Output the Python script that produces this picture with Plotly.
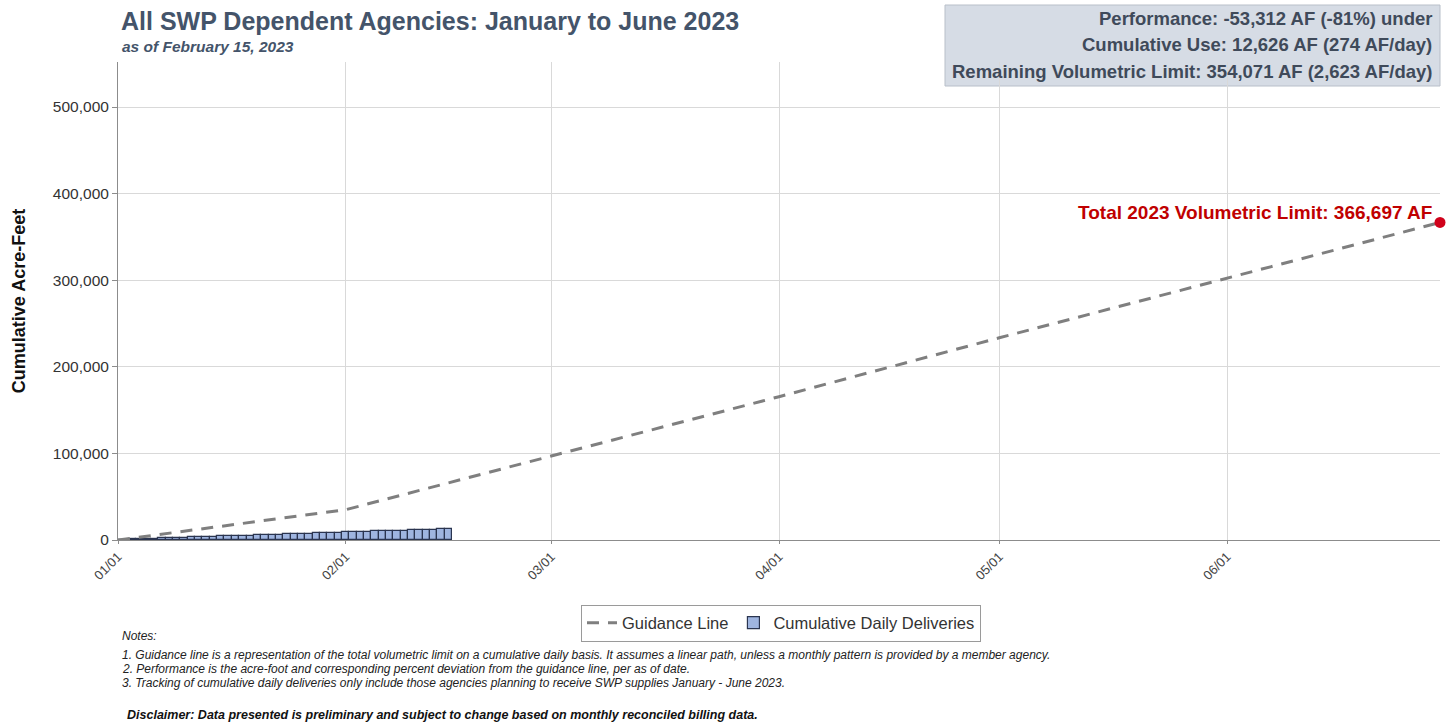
import plotly.graph_objects as go
import pandas as pd

# ---------------- data ----------------
guide_dates = ["2023-01-01", "2023-02-01", "2023-03-01", "2023-04-01", "2023-05-01", "2023-06-01", "2023-06-30"]
guide_values = [0, 35000, 97000, 165500, 233500, 302000, 366697]

delivery_dates = pd.date_range("2023-01-01", "2023-02-15", freq="D").strftime("%Y-%m-%d").tolist()
delivery_values = [
    240, 500, 770, 1050, 1320, 1600, 1880, 2150, 2420, 2700,
    2970, 3240, 3520, 3790, 4070, 4340, 4610, 4890, 5160, 5440,
    5710, 5990, 6260, 6540, 6810, 7090, 7360, 7640, 7910, 8190,
    8460, 8740, 9020, 9300, 9580, 9860, 10140, 10420, 10690, 10970,
    11250, 11520, 11800, 12070, 12350, 12626,
]

limit_date = "2023-06-30"
limit_value = 366697

y_ticks = [0, 100000, 200000, 300000, 400000, 500000]
y_tick_labels = ["0", "100,000", "200,000", "300,000", "400,000", "500,000"]
x_ticks = ["2023-01-01", "2023-02-01", "2023-03-01", "2023-04-01", "2023-05-01", "2023-06-01"]
x_tick_labels = ["01/01", "02/01", "03/01", "04/01", "05/01", "06/01"]

title_text = "All SWP Dependent Agencies: January to June 2023"
subtitle_text = "as of February 15, 2023"
box_lines = [
    "Performance: -53,312 AF (-81%) under",
    "Cumulative Use: 12,626 AF (274 AF/day)",
    "Remaining Volumetric Limit: 354,071 AF (2,623 AF/day)",
]
limit_label = "Total 2023 Volumetric Limit: 366,697 AF"
notes = [
    "Notes:",
    "1. Guidance line is a representation of the total volumetric limit on a cumulative daily basis. It assumes a linear path, unless a monthly pattern is provided by a member agency.",
    "2. Performance is the acre-foot and corresponding percent deviation from the guidance line, per as of date.",
    "3. Tracking of cumulative daily deliveries only include those agencies planning to receive SWP supplies January - June 2023.",
]
disclaimer = "Disclaimer: Data presented is preliminary and subject to change based on monthly reconciled billing data."

FONT = "Arial, 'Liberation Sans', sans-serif"

fig = go.Figure()

fig.add_trace(go.Scatter(
    x=guide_dates, y=guide_values, mode="lines", name="Guidance Line",
    line=dict(color="#7f7f7f", width=3, dash="12px,9px"),
))
fig.add_trace(go.Bar(
    x=delivery_dates, y=delivery_values, name="Cumulative Daily Deliveries",
    marker=dict(color="#9fb5e0", line=dict(color="#2b3550", width=1.2)),
))
fig.add_trace(go.Scatter(
    x=[limit_date], y=[limit_value], mode="markers", showlegend=False,
    marker=dict(color="#d0021b", size=11), cliponaxis=False,
))

# plot area: x 118..1440, y 62..540
L, R, T, B = 118, 1440, 62, 540
W, H = R - L, B - T

def py(px):
    return (B - px) / H

def pxx(px):
    return (px - L) / W

ann = []
ann.append(dict(text="<b>" + title_text + "</b>", x=pxx(119), y=py(21), xref="paper", yref="paper",
                xanchor="left", yanchor="middle", showarrow=False,
                font=dict(size=25, color="#44546a", family=FONT)))
ann.append(dict(text="<b><i>" + subtitle_text + "</i></b>", x=pxx(120), y=py(47), xref="paper", yref="paper",
                xanchor="left", yanchor="middle", showarrow=False,
                font=dict(size=15.5, color="#44546a", family=FONT)))
for i, (t, yy) in enumerate(zip(box_lines, [18, 45, 71])):
    ann.append(dict(text="<b>" + t + "</b>", x=pxx(1434), y=py(yy), xref="paper", yref="paper",
                    xanchor="right", yanchor="middle", showarrow=False,
                    font=dict(size=18.5, color="#3f4a5a", family=FONT)))
ann.append(dict(text="<b>" + limit_label + "</b>", x=pxx(1434), y=py(213), xref="paper", yref="paper",
                xanchor="right", yanchor="middle", showarrow=False,
                font=dict(size=19, color="#c00000", family=FONT)))
for t, yy in zip(notes, [636, 655, 669, 683]):
    ann.append(dict(text="<i>" + t + "</i>", x=pxx(120), y=py(yy), xref="paper", yref="paper",
                    xanchor="left", yanchor="middle", showarrow=False,
                    font=dict(size=12, color="#222222", family=FONT)))
ann.append(dict(text="<b><i>" + disclaimer + "</i></b>", x=pxx(125), y=py(715), xref="paper", yref="paper",
                xanchor="left", yanchor="middle", showarrow=False,
                font=dict(size=12.5, color="#111111", family=FONT)))

fig.update_layout(
    width=1456, height=723,
    margin=dict(l=L, r=1456 - R, t=T, b=723 - B),
    paper_bgcolor="white", plot_bgcolor="white",
    font=dict(family=FONT, color="#333333"),
    bargap=0,
    annotations=ann,
    shapes=[dict(type="rect", xref="paper", yref="paper",
                 x0=pxx(945), x1=pxx(1440), y0=py(86), y1=py(5),
                 fillcolor="#d6dce5", line=dict(color="#b8bfc9", width=1), layer="below")],
    legend=dict(orientation="h", x=pxx(781), y=py(623), xanchor="center", yanchor="middle",
                bordercolor="#9a9a9a", borderwidth=1, bgcolor="white",
                font=dict(size=16.5, color="#333333", family=FONT), itemwidth=30),
    xaxis=dict(
        type="date", range=["2023-01-01", "2023-06-30"],
        tickvals=x_ticks, ticktext=x_tick_labels, tickangle=-45,
        tickfont=dict(size=13, color="#444444", family=FONT),
        showgrid=True, gridcolor="#d9d9d9", gridwidth=1,
        showline=True, linecolor="#8c8c8c", linewidth=1,
        ticks="outside", ticklen=3, tickcolor="#8c8c8c",
        zeroline=False,
    ),
    yaxis=dict(
        range=[0, 552000],
        tickvals=y_ticks, ticktext=y_tick_labels,
        tickfont=dict(size=15.5, color="#333333", family=FONT),
        title=dict(text="<b>Cumulative Acre-Feet</b>", font=dict(size=18, color="#111111", family=FONT), standoff=22),
        showgrid=True, gridcolor="#d9d9d9", gridwidth=1,
        showline=True, linecolor="#8c8c8c", linewidth=1,
        ticks="outside", ticklen=5, tickcolor="#8c8c8c",
        zeroline=False,
    ),
)

fig.write_html("out.html")
